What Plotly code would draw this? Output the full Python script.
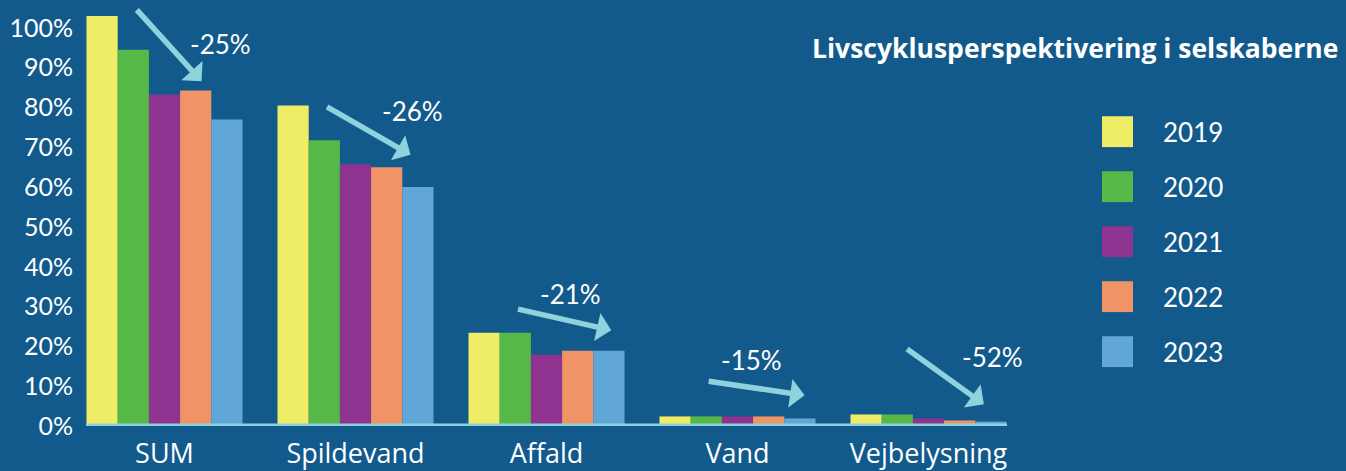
import plotly.graph_objects as go

# Data
categories = ["SUM", "Spildevand", "Affald", "Vand", "Vejbelysning"]
years = ["2019", "2020", "2021", "2022", "2023"]
values = {
    "2019": [103, 80.5, 23.4, 2.4, 2.9],
    "2020": [94.5, 71.75, 23.4, 2.4, 2.9],
    "2021": [83.25, 65.75, 17.9, 2.4, 1.9],
    "2022": [84.25, 65, 18.9, 2.4, 1.4],
    "2023": [77, 60, 18.9, 1.9, 1.1],
}
change_labels = ["-25%", "-26%", "-21%", "-15%", "-52%"]
y_ticks = list(range(0, 101, 10))
title_text = "Livscyklusperspektivering i selskaberne"

# Styling
BG = "#135a8c"
ACCENT = "#8ed3dc"
colors = ["#efec66", "#56b947", "#8e338f", "#f09467", "#60a6d9"]
FONT = "Lato"
TEXT_FONT = "Open Sans"

W, H = 1346, 471
ML, MR, MT, MB = 86, 339, 0, 43
PW, PH = W - ML - MR, H - MT - MB

fig = go.Figure()
for yr, col in zip(years, colors):
    fig.add_trace(go.Bar(
        x=categories, y=values[yr], name=yr,
        marker=dict(color=col, line=dict(width=0)),
        showlegend=False,
    ))

# Trend arrows: (tail x, tail y, tip x, tip y) in axis units, label position
arrow_geom = [
    (-0.152, 104.9, 0.194, 86.6, 0.293, 95.9),
    (0.843, 80.4, 1.288, 68.1, 1.298, 79.1),
    (1.843, 29.45, 2.339, 24.05, 2.126, 33.1),
    (2.841, 11.3, 3.351, 7.7, 3.072, 16.7),
    (3.880, 19.6, 4.290, 5.45, 4.333, 17.3),
]

annotations = []
for (tx, ty, hx, hy, lx, ly), lab in zip(arrow_geom, change_labels):
    annotations.append(dict(
        x=hx, y=hy, ax=tx, ay=ty, xref="x", yref="y", axref="x", ayref="y",
        text="", showarrow=True, arrowhead=1, arrowsize=0.87, arrowwidth=5.5,
        arrowcolor=ACCENT, standoff=0, startstandoff=0,
    ))
    annotations.append(dict(
        x=lx, y=ly, xref="x", yref="y", text=lab, showarrow=False,
        font=dict(family=FONT, size=26, color="white"),
    ))


def px_x(p):
    return (p - ML) / PW


def px_y(p):
    return (MT + PH - p) / PH


# Title
annotations.append(dict(
    x=px_x(1075), y=px_y(48), xref="paper", yref="paper", text=f"<b>{title_text}</b>",
    showarrow=False, font=dict(family=TEXT_FONT, size=26.5, color="white"),
    xanchor="center", yanchor="middle",
))

# Legend drawn as squares with labels
shapes = []
for i, (yr, col) in enumerate(zip(years, colors)):
    cy = 132.3 + i * 55.25
    shapes.append(dict(
        type="rect", xref="paper", yref="paper",
        x0=px_x(1102), x1=px_x(1133), y0=px_y(cy + 15.5), y1=px_y(cy - 15.5),
        fillcolor=col, line=dict(width=0),
    ))
    annotations.append(dict(
        x=px_x(1161), y=px_y(cy), xref="paper", yref="paper", text=yr,
        showarrow=False, xanchor="left", yanchor="middle",
        font=dict(family=FONT, size=26, color="white"),
    ))

# Baseline
shapes.append(dict(
    type="line", xref="paper", yref="y", x0=0, x1=1, y0=0, y1=0,
    line=dict(color=ACCENT, width=5), layer="above",
))

fig.update_layout(
    width=W, height=H,
    margin=dict(l=ML, r=MR, t=MT, b=MB, pad=0),
    paper_bgcolor=BG, plot_bgcolor=BG,
    barmode="group", bargap=35 / 191, bargroupgap=0,
    font=dict(family=FONT, color="white"),
    annotations=annotations, shapes=shapes,
    xaxis=dict(
        range=[-0.411, 4.411], showgrid=False, zeroline=False, showline=False,
        ticks="", tickfont=dict(family=TEXT_FONT, size=27, color="white"),
        ticklabelstandoff=9, fixedrange=True,
    ),
    yaxis=dict(
        range=[0, 107], showgrid=False, zeroline=False, showline=False,
        tickvals=y_ticks, ticktext=[f"{v}%" for v in y_ticks],
        ticks="", tickfont=dict(family=FONT, size=25, color="white"),
        ticklabelstandoff=12, fixedrange=True,
    ),
)

fig.write_html("out.html")
